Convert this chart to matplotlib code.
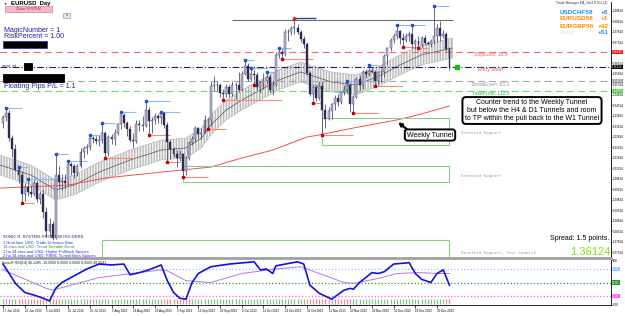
import matplotlib
matplotlib.use('Agg')
import matplotlib.pyplot as plt
from matplotlib.patches import Rectangle
import numpy as np

W, H = 625, 316

# EURUSD daily bars, 17 Jun 2013 .. 3 Jan 2014
opens = [1.3345, 1.3375, 1.3395, 1.3275, 1.3220, 1.3120, 1.3100, 1.3010, 1.3040, 1.3015,
         1.3010, 1.3060, 1.2985, 1.3010, 1.2920, 1.2830, 1.2865, 1.2800, 1.3100, 1.3065,
         1.3070, 1.3060, 1.3150, 1.3140, 1.3110, 1.3140, 1.3210, 1.3225, 1.3230, 1.3275,
         1.3270, 1.3260, 1.3265, 1.3300, 1.3205, 1.3280, 1.3270, 1.3300, 1.3340, 1.3385,
         1.3345, 1.3315, 1.3265, 1.3260, 1.3340, 1.3335, 1.3330, 1.3410, 1.3355, 1.3360,
         1.3380, 1.3370, 1.3395, 1.3335, 1.3255, 1.3220, 1.3200, 1.3180, 1.3200, 1.3115,
         1.3180, 1.3250, 1.3270, 1.3320, 1.3295, 1.3300, 1.3360, 1.3360, 1.3520, 1.3525,
         1.3525, 1.3490, 1.3485, 1.3515, 1.3485, 1.3525, 1.3525, 1.3505, 1.3580, 1.3615,
         1.3555, 1.3580, 1.3575, 1.3515, 1.3535, 1.3545, 1.3565, 1.3505, 1.3525, 1.3670,
         1.3685, 1.3675, 1.3780, 1.3780, 1.3800, 1.3800, 1.3780, 1.3745, 1.3720, 1.3585,
         1.3485, 1.3515, 1.3465, 1.3520, 1.3410, 1.3365, 1.3405, 1.3435, 1.3465, 1.3445,
         1.3495, 1.3505, 1.3525, 1.3435, 1.3470, 1.3555, 1.3525, 1.3590, 1.3580, 1.3595,
         1.3590, 1.3545, 1.3590, 1.3590, 1.3665, 1.3705, 1.3740, 1.3760, 1.3785, 1.3750,
         1.3740, 1.3760, 1.3770, 1.3720, 1.3735, 1.3715, 1.3750, 1.3725, 1.3720, 1.3735,
         1.3760, 1.3800, 1.3760, 1.3770, 1.3700]
highs = [1.3385, 1.3416, 1.3410, 1.3290, 1.3245, 1.3135, 1.3115, 1.3060, 1.3080, 1.3050,
         1.3075, 1.3070, 1.3020, 1.3030, 1.2945, 1.2895, 1.2880, 1.3200, 1.3140, 1.3105,
         1.3105, 1.3165, 1.3160, 1.3150, 1.3150, 1.3225, 1.3235, 1.3245, 1.3290, 1.3285,
         1.3285, 1.3290, 1.3345, 1.3310, 1.3290, 1.3295, 1.3315, 1.3345, 1.3400, 1.3395,
         1.3355, 1.3330, 1.3300, 1.3360, 1.3360, 1.3380, 1.3452, 1.3420, 1.3375, 1.3395,
         1.3390, 1.3400, 1.3398, 1.3350, 1.3265, 1.3230, 1.3215, 1.3215, 1.3205, 1.3190,
         1.3260, 1.3285, 1.3330, 1.3325, 1.3320, 1.3385, 1.3370, 1.3545, 1.3570, 1.3545,
         1.3535, 1.3510, 1.3530, 1.3525, 1.3545, 1.3540, 1.3590, 1.3595, 1.3646, 1.3630,
         1.3610, 1.3600, 1.3590, 1.3545, 1.3585, 1.3590, 1.3580, 1.3545, 1.3685, 1.3705,
         1.3700, 1.3795, 1.3795, 1.3810, 1.3846, 1.3815, 1.3790, 1.3760, 1.3730, 1.3595,
         1.3530, 1.3530, 1.3545, 1.3545, 1.3435, 1.3420, 1.3440, 1.3480, 1.3485, 1.3500,
         1.3525, 1.3545, 1.3535, 1.3480, 1.3565, 1.3575, 1.3600, 1.3605, 1.3620, 1.3610,
         1.3600, 1.3595, 1.3605, 1.3675, 1.3710, 1.3750, 1.3775, 1.3812, 1.3790, 1.3775,
         1.3775, 1.3785, 1.3812, 1.3745, 1.3760, 1.3760, 1.3765, 1.3735, 1.3745, 1.3903,
         1.3815, 1.3830, 1.3790, 1.3780, 1.3710]
lows = [1.3320, 1.3355, 1.3260, 1.3185, 1.3115, 1.3060, 1.2965, 1.2975, 1.3000, 1.2995,
        1.3000, 1.2970, 1.2960, 1.2895, 1.2805, 1.2805, 1.2789, 1.2795, 1.3035, 1.3025,
        1.3030, 1.3050, 1.3100, 1.3085, 1.3095, 1.3130, 1.3180, 1.3200, 1.3215, 1.3250,
        1.3245, 1.3235, 1.3250, 1.3180, 1.3190, 1.3245, 1.3240, 1.3290, 1.3315, 1.3325,
        1.3285, 1.3255, 1.3225, 1.3250, 1.3310, 1.3310, 1.3325, 1.3290, 1.3300, 1.3340,
        1.3345, 1.3340, 1.3320, 1.3160, 1.3175, 1.3185, 1.3135, 1.3165, 1.3090, 1.3100,
        1.3170, 1.3240, 1.3255, 1.3275, 1.3270, 1.3300, 1.3315, 1.3330, 1.3500, 1.3500,
        1.3470, 1.3455, 1.3470, 1.3470, 1.3475, 1.3460, 1.3495, 1.3500, 1.3575, 1.3545,
        1.3545, 1.3525, 1.3505, 1.3490, 1.3510, 1.3530, 1.3495, 1.3480, 1.3520, 1.3655,
        1.3650, 1.3665, 1.3735, 1.3765, 1.3770, 1.3770, 1.3730, 1.3705, 1.3575, 1.3475,
        1.3440, 1.3450, 1.3455, 1.3290, 1.3320, 1.3360, 1.3365, 1.3410, 1.3425, 1.3435,
        1.3480, 1.3490, 1.3400, 1.3395, 1.3465, 1.3505, 1.3510, 1.3560, 1.3570, 1.3585,
        1.3520, 1.3530, 1.3540, 1.3565, 1.3620, 1.3690, 1.3725, 1.3745, 1.3720, 1.3708,
        1.3730, 1.3735, 1.3700, 1.3700, 1.3705, 1.3710, 1.3715, 1.3715, 1.3710, 1.3720,
        1.3730, 1.3735, 1.3750, 1.3690, 1.3598]
closes = [1.3375, 1.3395, 1.3275, 1.3220, 1.3120, 1.3100, 1.3010, 1.3040, 1.3015, 1.3010,
          1.3060, 1.2985, 1.3010, 1.2920, 1.2830, 1.2865, 1.2800, 1.3100, 1.3065, 1.3070,
          1.3060, 1.3150, 1.3140, 1.3110, 1.3140, 1.3210, 1.3225, 1.3230, 1.3275, 1.3270,
          1.3260, 1.3265, 1.3300, 1.3205, 1.3280, 1.3270, 1.3300, 1.3340, 1.3385, 1.3345,
          1.3315, 1.3265, 1.3260, 1.3340, 1.3335, 1.3330, 1.3410, 1.3355, 1.3360, 1.3380,
          1.3370, 1.3395, 1.3335, 1.3255, 1.3220, 1.3200, 1.3180, 1.3200, 1.3115, 1.3180,
          1.3250, 1.3270, 1.3320, 1.3295, 1.3300, 1.3360, 1.3360, 1.3520, 1.3525, 1.3525,
          1.3490, 1.3485, 1.3515, 1.3485, 1.3525, 1.3525, 1.3505, 1.3580, 1.3615, 1.3555,
          1.3580, 1.3575, 1.3515, 1.3535, 1.3545, 1.3565, 1.3505, 1.3525, 1.3670, 1.3685,
          1.3675, 1.3780, 1.3780, 1.3800, 1.3800, 1.3780, 1.3745, 1.3720, 1.3585, 1.3485,
          1.3515, 1.3465, 1.3520, 1.3410, 1.3365, 1.3405, 1.3435, 1.3465, 1.3445, 1.3495,
          1.3505, 1.3525, 1.3435, 1.3470, 1.3555, 1.3525, 1.3590, 1.3580, 1.3595, 1.3590,
          1.3545, 1.3590, 1.3590, 1.3665, 1.3705, 1.3740, 1.3760, 1.3785, 1.3750, 1.3740,
          1.3760, 1.3770, 1.3720, 1.3735, 1.3715, 1.3750, 1.3725, 1.3720, 1.3735, 1.3760,
          1.3800, 1.3760, 1.3770, 1.3700, 1.3612]

date_labels = ['17 Jun 2013', '26 Jun 2013', '5 Jul 2013', '16 Jul 2013', '25 Jul 2013',
               '5 Aug 2013', '14 Aug 2013', '23 Aug 2013', '3 Sep 2013', '12 Sep 2013',
               '23 Sep 2013', '2 Oct 2013', '11 Oct 2013', '22 Oct 2013', '31 Oct 2013',
               '11 Nov 2013', '20 Nov 2013', '29 Nov 2013', '10 Dec 2013', '19 Dec 2013',
               '30 Dec 2013']
date_bars = [0, 7, 14, 21, 28, 35, 42, 49, 56, 63, 70, 77, 84, 91, 98, 105, 112, 119, 126, 133, 140]

# daily tunnel (centre) and weekly tunnel line
tunnel_bars = [-1, 9, 17, 23, 31, 41, 51, 59, 64, 67, 72, 77, 83, 89, 96, 99, 106, 114, 122, 128, 135, 145]
tunnel_mid = [1.3146, 1.3098, 1.3027, 1.3051, 1.3112, 1.3170, 1.3217, 1.3227, 1.3274, 1.3336, 1.3408,
              1.3455, 1.3503, 1.3551, 1.3589, 1.3574, 1.3541, 1.3527, 1.3574, 1.3622, 1.3670, 1.3703]
weekly_bars = [-1, 21, 33, 51, 67, 77, 87, 98, 102, 113, 127, 135, 144]
weekly_line = [1.3036, 1.3050, 1.3084, 1.3112, 1.3136, 1.3179, 1.3217, 1.3279, 1.3289, 1.3322,
               1.3360, 1.3389, 1.3427]

# swing high / low markers with their extension lines
hi_bars = [1, 5, 8, 17, 21, 28, 32, 38, 46, 51, 78, 80, 85, 89, 111, 118, 127, 132, 139]
hi_prices = [1.3416, 1.3135, 1.3080, 1.3200, 1.3165, 1.3290, 1.3345, 1.3400, 1.3452, 1.3400,
             1.3646, 1.3610, 1.3590, 1.3705, 1.3545, 1.3620, 1.3812, 1.3812, 1.3903]
hi_ends = [6, 8, 16, 21, 27, 31, 36, 43, 54, 57, 81, 85, 88, 93, 119, 121, 132, 136, 144]
lo_bars = [6, 33, 47, 53, 58, 66, 71, 81, 90, 100, 103, 113, 120, 129, 134]
lo_prices = [1.2965, 1.3180, 1.3290, 1.3160, 1.3090, 1.3315, 1.3455, 1.3525, 1.3650, 1.3440,
             1.3290, 1.3395, 1.3520, 1.3708, 1.3705]
lo_ends = [10, 42, 54, 57, 66, 72, 90, 87, 100, 103, 113, 121, 129, 133, 137]
peak_bar, peak_end, peak_price = 94, 101, 1.3846
resistance, res_start, res_end = 1.3836, 74, 145

stop_loss = 1.3684
entry = 1.36124
break_even = 1.3546
take_profit = 1.3498

zone_start = [103, 58, 32]
zone_end = [144, 144, 144]
zone_top = [1.3370, 1.3141, 1.2789]
zone_bottom = [1.3241, 1.3065, 1.2680]
zone_names = ['Untested Support', 'Untested Support', 'Verified Support, Test Count=1']
zone_label_price = [1.3299, 1.3094, 1.2727]

# oscillator panel
rsi_bars = [0, 2, 4, 7, 10, 13, 15, 17, 19, 23, 27, 31, 35, 39, 41, 44, 47, 51, 53, 55,
            57, 59, 61, 63, 67, 73, 81, 83, 85, 87, 88, 95, 97, 99, 102, 106, 110, 112, 113, 115,
            119, 121, 123, 126, 131, 133, 135, 138, 140, 142, 144]
rsi_fast = [91, 70, 48, 28, 22, 15, 9, 37, 50, 65, 80, 91, 89, 91, 67, 72, 78, 89, 54, 28,
            15, 13, 50, 70, 85, 91, 96, 78, 80, 70, 87, 96, 91, 44, 26, 13, 33, 37, 35, 50,
            72, 70, 74, 91, 94, 70, 57, 50, 70, 78, 44]
sig_bars = [0, 14, 16, 31, 44, 51, 53, 59, 67, 77, 88, 96, 104, 110, 113, 121, 127, 134, 140, 144]
rsi_slow = [78, 37, 33, 61, 72, 78, 76, 54, 50, 70, 80, 85, 65, 50, 48, 59, 70, 72, 70, 70]
rsi_levels = [80, 50, 20]
strip_runs = [('g', 2), ('m', 1), ('g', 2), ('r', 3), ('g', 1), ('r', 6), ('g', 1), ('r', 3),
              ('g', 9), ('m', 1), ('g', 23), ('r', 9), ('g', 37), ('r', 9), ('b', 1), ('r', 5),
              ('g', 30), ('r', 2)]

plt.rcParams['font.family'] = ['Liberation Sans', 'DejaVu Sans']


def fx(x):
    return x / W


def fy(y):
    return 1 - y / H


fig = plt.figure(figsize=(W / 100, H / 100), dpi=100)
ax = fig.add_axes([0, fy(258), fx(611), 256 / H])
ax2 = fig.add_axes([0, fy(305), fx(611), 45 / H])
xlim = (-0.97, 196.1)

# --- price panel ---
n = len(closes)
bars = np.arange(n)
band_lo = [m - 0.0047 for m in tunnel_mid]
band_hi = [m + 0.0047 for m in tunnel_mid]
ax.fill_between(tunnel_bars, band_lo, band_hi, facecolor='#f6f6f6', edgecolor='#b8b8b8',
                hatch='||||||', lw=0.5, zorder=1)
ax.plot(tunnel_bars, tunnel_mid, color='#555555', lw=0.5, zorder=2)
ax.plot(weekly_bars, weekly_line, color='#ff4a4a', lw=0.7, zorder=2)

for s, e, t, b in zip(zone_start, zone_end, zone_top, zone_bottom):
    ax.add_patch(Rectangle((s, b), e - s, t - b, fill=False, ec='#8ccc8c', lw=0.8, zorder=2))

ax.hlines(resistance, res_start, res_end, color='#6e6e6e', lw=0.8, zorder=2)
ax.hlines(peak_price, peak_bar, peak_end, color='#1f4e9a', lw=1.0, zorder=2)
ax.hlines(hi_prices, hi_bars, hi_ends, color='#86c0f4', lw=0.8, zorder=2)
ax.hlines(lo_prices, lo_bars, lo_ends, color='#f39070', lw=0.8, zorder=2)

body_col = ['#b9b9d6' if c >= o else '#262650' for o, c in zip(opens, closes)]
ax.vlines(bars, lows, highs, color='#505072', lw=0.6, zorder=3)
ax.bar(bars, [max(abs(c - o), 0.0001) for o, c in zip(opens, closes)],
       bottom=[min(o, c) for o, c in zip(opens, closes)], width=0.62,
       color=body_col, edgecolor='#3a3a5c', lw=0.3, zorder=4)
ax.plot(hi_bars, hi_prices, 's', color='#1f55c8', ms=1.6, zorder=5)
ax.plot(lo_bars, lo_prices, 's', color='#c80000', ms=1.6, zorder=5)
ax.plot(peak_bar, peak_price, '^', color='#e02020', ms=2.2, zorder=5)

ax.axhline(stop_loss, color='#ff6464', ls=(0, (6, 4)), lw=0.8, zorder=2)
ax.axhline(entry, color='#202060', ls=(0, (6, 2, 1, 2)), lw=0.8, zorder=2)
ax.axhline(break_even, color='#a8a8a8', ls=(0, (6, 4)), lw=0.8, zorder=2)
ax.axhline(take_profit, color='#66e066', ls=(0, (6, 4)), lw=0.8, zorder=2)
ax.plot(n + 1.5, entry, 's', color='#10c010', ms=2.2, zorder=5)

ax.set_xlim(*xlim)
ax.set_ylim(1.2703, 1.3922)
ax.set_xticks([])
ax.yaxis.tick_right()
ticks = np.arange(1.27314, 1.392, 0.005)
ax.set_yticks(ticks)
ax.set_yticklabels([f'{t:.5f}' for t in ticks])
ax.tick_params(axis='y', labelsize=2.2, length=1, width=0.5, pad=0.6)
for side in ['left', 'top']:
    ax.spines[side].set_visible(False)
ax.spines['bottom'].set_color('#a0a0a0')
ax.spines['bottom'].set_linewidth(2)
ax.spines['right'].set_linewidth(0.6)

ytr = ax.get_yaxis_transform()
for val, col in [(stop_loss, '#ff1010'), (entry, '#000000'), (break_even, '#9a9a9a'), (take_profit, '#30e030')]:
    ax.text(1.002, val, f'{val:.5f}', transform=ytr, fontsize=2.1, color='white', va='center',
            ha='left', bbox=dict(boxstyle='square,pad=0.15', fc=col, ec='none'))

# level captions
fig.text(fx(491), fy(54.5), 'StopLoss: 16.5', fontsize=3.6, color='#ff5a5a', ha='center', va='center')
fig.text(fx(491), fy(70), 'Entry Short', fontsize=3.6, color='#e05050', ha='center', va='center')
fig.text(fx(491), fy(84), 'BreakEven: 63.3', fontsize=3.6, color='#999999', ha='center', va='center')
fig.text(fx(491), fy(93.5), 'TakeProfit: 112.5', fontsize=3.6, color='#30c030', ha='center', va='center')

for name, lp in zip(zone_names, zone_label_price):
    ax.text(147.6, lp, name, fontsize=3.1, family='DejaVu Sans Mono', color='#9a9a9a', va='center')

# annotations
fig.text(fx(532), fy(110.5), 'Counter trend to the Weekly Tunnel\nbut below the H4 & D1 Tunnels and room\n'
         'to TP within the pull back to the W1 Tunnel', fontsize=5, ha='center', va='center',
         linespacing=1.1, bbox=dict(boxstyle='round,pad=0.35,rounding_size=0.5', fc='white', ec='black', lw=1.4))
fig.text(fx(430), fy(135), 'Weekly Tunnel', fontsize=5, ha='center', va='center',
         bbox=dict(boxstyle='round,pad=0.3,rounding_size=0.4', fc='white', ec='black', lw=1.4))
fig.add_artist(matplotlib.patches.FancyArrowPatch((fx(409), fy(131)), (fx(396), fy(120.5)),
                                                  transform=fig.transFigure, arrowstyle='-|>',
                                                  mutation_scale=5, color='black', lw=1.6))

# top-left panel
fig.text(fx(3), fy(3.5), '\u25bc', fontsize=2.5, va='center')
fig.text(fx(11), fy(3.5), 'EURUSD  Day', fontsize=4.3, weight='bold', va='center')
fig.add_artist(Rectangle((fx(5), fy(11.5)), fx(47), 6 / H, transform=fig.transFigure,
                         fc='#ffb4c4', ec='#b07888', lw=0.4, zorder=5))
fig.text(fx(28.5), fy(8.5), 'Close SYSTEM', fontsize=2.6, color='#803048', ha='center', va='center', zorder=6)
fig.add_artist(Rectangle((fx(63), fy(18)), fx(7), 5 / H, transform=fig.transFigure,
                         fc='#dde2f4', ec='#8890b8', lw=0.4, zorder=5))
fig.text(fx(66.5), fy(15.5), 's', fontsize=2.6, color='#303070', ha='center', va='center', zorder=6)
fig.text(fx(4), fy(30.5), 'MagicNumber = 1', fontsize=5, color='#1c1c9a', va='center')
fig.text(fx(4), fy(36.5), 'RiskPercent = 1.00', fontsize=5, color='#1c1c9a', va='center')
for x0, y0, x1, y1, ec in [(3, 41, 47, 48, '#3030c0'), (24, 63, 32, 70, 'black'), (3, 74, 64, 82, 'black')]:
    fig.add_artist(Rectangle((fx(x0), fy(y1)), fx(x1 - x0), (y1 - y0) / H, transform=fig.transFigure,
                             fc='black', ec=ec, lw=0.6, zorder=5))
fig.text(fx(2), fy(66), 'spread_ind', fontsize=2.2, color='#303030', va='center')
fig.text(fx(4), fy(86), 'Floating Pips P/L = 1.1', fontsize=5, color='#1c1c9a', va='center')

# top-right trade manager
fig.text(fx(607), fy(3), 'Trade Manager EA_Ver2.0 NLL(3)', fontsize=2.4, color='#303030', ha='right', va='center')
for y, name, val, col in [(12, 'USDCHF58', '+8', '#1e90ff'), (19, 'EURUSD58', '+1', '#ff8c00'),
                          (26, 'EURGBP58', '+42', '#ff8c00'), (33, 'Total', '+51', '#1e90ff')]:
    fig.text(fx(560), fy(y), name, fontsize=4.6, weight='bold', va='center',
             color=col if name != 'Total' else '#e8e8f4')
    fig.text(fx(608.5), fy(y), val, fontsize=4.6, weight='bold', va='center', ha='right', color=col)

# lower-left legend and spread
fig.text(fx(3), fy(237.5), 'SONIC R. SYSTEM: FRONT 40 HOLDERS', fontsize=3, color='#202060', va='center')
for y, txt, col in [(242.5, '1 Hma lime USD: Trade Direction Bias', '#2a2aff'),
                    (247, '34 ema and USD: Trend Seeable Band', '#2a9a2a'),
                    (251.5, '1 ha 34 ema and USD: Higher Pullback Spaces', '#2a2aff'),
                    (256, '2 ha 34 ema and USD: PSMC Tunnel Bars Spaces', '#2a2aff')]:
    fig.text(fx(3), fy(y), txt, fontsize=3, color=col, va='center')
fig.text(fx(609), fy(239), 'Spread: 1.5 points.', fontsize=5, ha='right', va='center')
fig.text(fx(610), fy(252), f'{entry:.5f}', fontsize=8, color='#7ee01c', ha='right', va='center')

# --- oscillator panel ---
strip = ''.join(c * k for c, k in strip_runs)
strip_col = {'g': '#80c880', 'r': '#f28a8a', 'm': '#ff66ff', 'b': '#66aaff'}
ax2.vlines(range(len(strip)), 2, 14, colors=[strip_col[c] for c in strip], lw=0.9)
for lvl, col in zip(rsi_levels, ['#8ec4ff', '#2e9a2e', '#ff55ff']):
    ax2.axhline(lvl, color=col, ls=':', lw=0.9)
    ax2.text(1.002, lvl, f'{lvl:.2f}', transform=ax2.get_yaxis_transform(), fontsize=2.1, color='white',
             va='center', ha='left', bbox=dict(boxstyle='square,pad=0.15', fc=col, ec='none'))
ax2.plot(sig_bars, rsi_slow, color='#b478e6', lw=0.7)
ax2.plot(rsi_bars, rsi_fast, color='#1212e0', lw=1.2)
ax2.text(0.004, 0.98, 'SonicR RSI(14) 40.1285 -10.0000 0.0000 0.0000 0.0000 48.0547',
         transform=ax2.transAxes, fontsize=2.6, va='top', color='#202020')
ax2.set_xlim(*xlim)
ax2.set_ylim(0, 100)
ax2.yaxis.tick_right()
ax2.set_yticks([0, 100])
ax2.set_yticklabels(['0.00', '100'])
ax2.tick_params(axis='y', labelsize=2.2, length=1, width=0.5, pad=0.6)
ax2.set_xticks(date_bars)
ax2.set_xticklabels(date_labels, ha='left')
ax2.tick_params(axis='x', labelsize=2.2, length=2, width=0.5, pad=0.8)
for side in ['left', 'top']:
    ax2.spines[side].set_visible(False)
ax2.spines['bottom'].set_linewidth(0.6)
ax2.spines['right'].set_linewidth(0.6)

fig.savefig('out.png', dpi=100)
